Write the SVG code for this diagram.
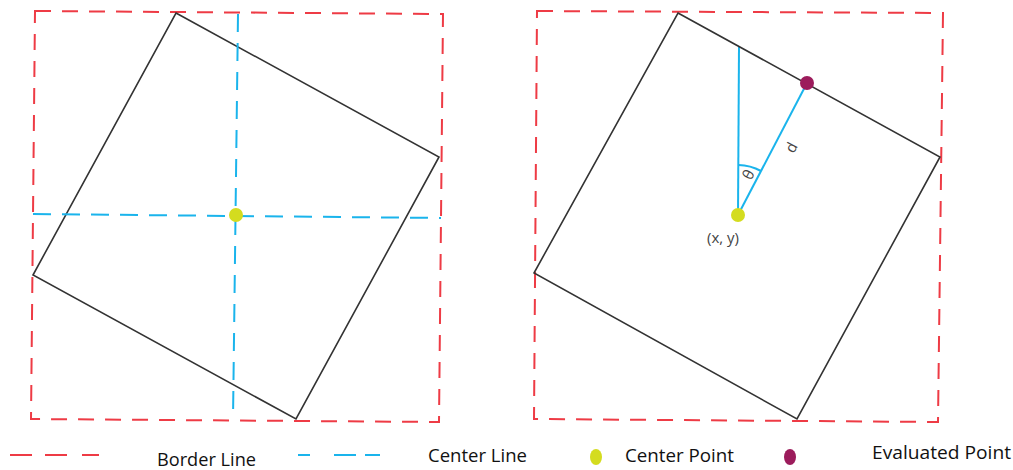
<svg xmlns="http://www.w3.org/2000/svg" width="1013" height="470" viewBox="0 0 1013 470">
<style>
.border{fill:none;stroke:#ee3b45;stroke-width:2;stroke-dasharray:16 11}
.sq{fill:none;stroke:#333;stroke-width:1.6;stroke-linejoin:miter}
.cl{fill:none;stroke:#1ab4ec;stroke-width:2;stroke-dasharray:18 11}
.ln{fill:none;stroke:#1ab4ec;stroke-width:2}
.cp{fill:#d4dc1f}
.ep{fill:#9c1c5c}
.lg{font-family:"Open Sans","Liberation Sans",sans-serif;font-size:19px;fill:#111}
.lb{font-family:"Open Sans","Liberation Sans",sans-serif;font-size:15px;fill:#444}
</style>
<rect width="1013" height="470" fill="#fff"/>
<g id="left-panel">
<polygon class="border" points="35,11 443,14 439,422 31,419"/>
<polygon class="sq" points="176,13 439,157 296,419 33,275"/>
</g>
<g id="connectors">
<line class="cl" x1="238" y1="14" x2="233" y2="420"/>
<line class="cl" x1="33" y1="214" x2="441" y2="218"/>
<line class="ln" x1="739" y1="47" x2="738" y2="215"/>
<line class="ln" x1="738" y1="215" x2="807" y2="83"/>
<path class="ln" d="M738.5,165 A50,50 0 0 1 761,171" stroke-width="1.6"/>
</g>
<g id="left-center">
<circle class="cp" cx="236" cy="215" r="7"/>
</g>
<g id="right-panel">
<polygon class="border" points="537,11 943,13 938,422 534,419"/>
<polygon class="sq" points="678,13 940,157 797,419 534,273"/>
</g>
<g id="right-center">
<circle class="cp" cx="738" cy="215" r="7"/>
<text class="lb" x="707" y="243">(x, y)</text>
</g>
<g id="evaluated-point">
<circle class="ep" cx="807" cy="83" r="7"/>
</g>
<g id="labels">
<text class="lb" font-size="17" transform="translate(753,177) rotate(-62)" text-anchor="middle">θ</text>
<text class="lb" font-size="17" transform="translate(796,150) rotate(-62)" text-anchor="middle">d</text>
</g>
<g id="legend">
<g id="legend-border">
<line x1="10" y1="455" x2="32" y2="455" stroke="#ee3b45" stroke-width="2"/>
<line x1="45" y1="455" x2="67" y2="455" stroke="#ee3b45" stroke-width="2"/>
<line x1="82" y1="455" x2="99" y2="455" stroke="#ee3b45" stroke-width="2"/>
<text class="lg" x="157" y="466" textLength="99" lengthAdjust="spacingAndGlyphs">Border Line</text>
</g>
<g id="legend-center-line">
<line x1="298" y1="455" x2="310" y2="455" stroke="#1ab4ec" stroke-width="2"/>
<line x1="334" y1="455" x2="356" y2="455" stroke="#1ab4ec" stroke-width="2"/>
<line x1="365" y1="455" x2="380" y2="455" stroke="#1ab4ec" stroke-width="2"/>
<text class="lg" x="428" y="462" textLength="99" lengthAdjust="spacingAndGlyphs">Center Line</text>
</g>
<g id="legend-center-point">
<ellipse class="cp" cx="596" cy="457" rx="6" ry="8"/>
<text class="lg" x="625" y="462" textLength="109" lengthAdjust="spacingAndGlyphs">Center Point</text>
</g>
<g id="legend-evaluated-point">
<ellipse class="ep" cx="790" cy="457" rx="6" ry="8"/>
<text class="lg" x="872" y="459" textLength="139" lengthAdjust="spacingAndGlyphs">Evaluated Point</text>
</g>
</g>
</svg>
